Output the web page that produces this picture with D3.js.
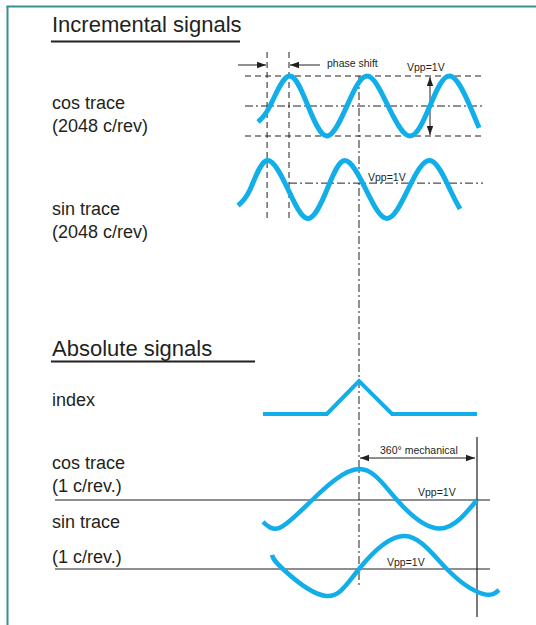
<!DOCTYPE html>
<html><head><meta charset="utf-8">
<script src="https://cdn.jsdelivr.net/npm/d3@7/dist/d3.min.js"></script>
<style>body{margin:0;background:#fff}svg{display:block}</style></head>
<body><svg id="c" width="536" height="625"></svg>
<script>
// ---- data ----
// incremental signals: electrical phase (deg) and normalized level
const incCosPhase = [-139, -85, 0, 85, 170, 259, 349, 443, 541, 630, 720, 809, 850];
const incCosValue = [-0.53, 0, 1, 0, -1, 0, 1, 0, -1, 0, 1, 0, -0.73];
const incSinPhase = [-228, -174, -98, -4, 85, 170, 250, 344, 438, 532, 631, 720, 765];
const incSinValue = [-0.55, 0, 1, 0, -1, 0, 1, 0, -1, 0, 1, 0, -0.67];
const incSinRefLevel = 0.22;
// absolute signals: mechanical position (deg) and normalized level
const indexPos = [-293, -98, 0, 101, 360];
const indexValue = [0, 0, 1, 0, 0];
const absCosPos = [-293, -241, -143, 0, 116, 247, 360];
const absCosValue = [-0.73, -0.92, 0, 1.03, 0, -0.95, 0];
const absSinPos = [-265, -232, -101, 0, 140, 268, 378, 427];
const absSinValue = [0.47, 0, -0.9, 0, 1.1, 0, -0.83, -0.7];
// texts
const sectionTitles = ["Incremental signals", "Absolute signals"];
const incLabels = [["cos trace", "(2048 c/rev)"], ["sin trace", "(2048 c/rev)"]];
const absLabels = [["index"], ["cos trace", "(1 c/rev.)"], ["sin trace", "(1 c/rev.)"]];
const annotations = ["phase shift", "Vpp=1V", "360° mechanical"];

// ---- drawing ----
const BLUE = "#12aeea", INK = "#231f20", TEAL = "#3a8f90";
const FONT = "'Liberation Sans', Arial, Helvetica, sans-serif";
const svg = d3.select("#c");
svg.append("rect").attr("width", 536).attr("height", 625).attr("fill", "#fff");

const defs = svg.append("defs");
function marker(id, orient) {
  defs.append("marker").attr("id", id).attr("viewBox", "0 -4 9 8")
    .attr("refX", 9).attr("refY", 0).attr("markerWidth", 9).attr("markerHeight", 8)
    .attr("markerUnits", "userSpaceOnUse").attr("orient", orient)
    .append("path").attr("d", "M0,-3.2L9,0L0,3.2Z").attr("fill", INK);
}
marker("ah", "auto"); marker("ahs", "auto-start-reverse");

// frame
svg.append("line").attr("x1", 6.5).attr("x2", 536).attr("y1", 6.5).attr("y2", 6.5)
  .attr("stroke", TEAL).attr("stroke-width", 2);
svg.append("line").attr("x1", 7.5).attr("x2", 7.5).attr("y1", 6).attr("y2", 625)
  .attr("stroke", TEAL).attr("stroke-width", 2);

// scales
const xInc = d3.scaleLinear().domain([0, 360]).range([289, 369.5]);
const yIncCos = d3.scaleLinear().domain([-1, 1]).range([136, 76]);
const yIncSin = d3.scaleLinear().domain([-1, 1]).range([218.5, 160.5]);
const xAbs = d3.scaleLinear().domain([0, 360]).range([359, 477]);
const yIndex = d3.scaleLinear().domain([0, 1]).range([414, 381]);
const yAbsCos = d3.scaleLinear().domain([-1, 1]).range([530, 470]);
const yAbsSin = d3.scaleLinear().domain([-1, 1]).range([599, 539]);

function hline(y, x1, x2, dash, w) {
  svg.append("line").attr("x1", x1).attr("x2", x2).attr("y1", y).attr("y2", y)
    .attr("stroke", INK).attr("stroke-width", w || 1).attr("stroke-dasharray", dash || null);
}
function vline(x, y1, y2, dash, w) {
  svg.append("line").attr("x1", x).attr("x2", x).attr("y1", y1).attr("y2", y2)
    .attr("stroke", INK).attr("stroke-width", w || 1).attr("stroke-dasharray", dash || null);
}
const DASH = "6,4", DASHDOT = "8,3,2,3";

// incremental reference lines
const incL = xInc.invert(245), incR = xInc.invert(483);
hline(yIncCos(1), xInc(incL), xInc(incR), DASH);
hline(yIncCos(-1), xInc(incL), xInc(incR), DASH);
hline(yIncCos(0), xInc(incL), xInc(incR), DASHDOT);
hline(yIncSin(incSinRefLevel), xInc(0), xInc(incR), DASHDOT);
vline(xInc(-98), 52, 218, DASH);
vline(xInc(0), 52, 218, DASH);
vline(xAbs(0), yIncCos(1), 585, DASHDOT);

// phase shift arrows
svg.append("line").attr("x1", 238).attr("x2", xInc(-98) - 1).attr("y1", 65).attr("y2", 65)
  .attr("stroke", INK).attr("marker-end", "url(#ah)");
svg.append("line").attr("x1", 320).attr("x2", xInc(0) + 1).attr("y1", 65).attr("y2", 65)
  .attr("stroke", INK).attr("marker-end", "url(#ah)");
// Vpp arrow
svg.append("line").attr("x1", 430).attr("x2", 430).attr("y1", yIncCos(1) + 1).attr("y2", yIncCos(-1) - 1)
  .attr("stroke", INK).attr("marker-start", "url(#ahs)").attr("marker-end", "url(#ah)");

// absolute reference lines
hline(yAbsCos(0), 55, 490, null, 1.2);
hline(yAbsSin(0), 55, 490, null, 1.2);
vline(xAbs(360), 437, 617, null, 1.2);
svg.append("line").attr("x1", xAbs(0) + 1).attr("x2", xAbs(360) - 2).attr("y1", 458).attr("y2", 458)
  .attr("stroke", INK).attr("marker-start", "url(#ahs)").attr("marker-end", "url(#ah)");

// traces
function trace(xs, vs, xS, yS, w, curve) {
  const line = d3.line().x(d => xS(d[0])).y(d => yS(d[1])).curve(curve);
  svg.append("path").attr("d", line(xs.map((x, i) => [x, vs[i]])))
    .attr("fill", "none").attr("stroke", BLUE).attr("stroke-width", w)
    .attr("stroke-linejoin", "miter").attr("stroke-linecap", "butt");
}
trace(incCosPhase, incCosValue, xInc, yIncCos, 5, d3.curveNatural);
trace(incSinPhase, incSinValue, xInc, yIncSin, 5, d3.curveNatural);
trace(indexPos, indexValue, xAbs, yIndex, 4, d3.curveLinear);
trace(absCosPos, absCosValue, xAbs, yAbsCos, 4.5, d3.curveNatural);
trace(absSinPos, absSinValue, xAbs, yAbsSin, 4.5, d3.curveNatural);

// texts
function text(str, x, y, size) {
  svg.append("text").attr("x", x).attr("y", y).attr("font-family", FONT)
    .attr("font-size", size).attr("fill", INK).text(str);
}
text(sectionTitles[0], 52, 32, 22);
hline(41.5, 51, 240, null, 2);
text(sectionTitles[1], 52, 356, 22);
hline(361.5, 51, 255, null, 2);

const incBase = [109, 215];
incLabels.forEach((ls, i) => ls.forEach((s, j) => text(s, 52, incBase[i] + j * 23, 18)));
const absBase = [[406], [469, 491.5], [528, 562.5]];
absLabels.forEach((ls, i) => ls.forEach((s, j) => text(s, 52, absBase[i][j], 18)));

text(annotations[0], 327, 67, 10.5);
text(annotations[1], 407, 71, 10.5);
text(annotations[1], 368, 181, 10.5);
text(annotations[2], 380, 454, 10.5);
text(annotations[1], 418, 496, 10.5);
text(annotations[1], 387, 566, 10.5);
</script></body></html>
